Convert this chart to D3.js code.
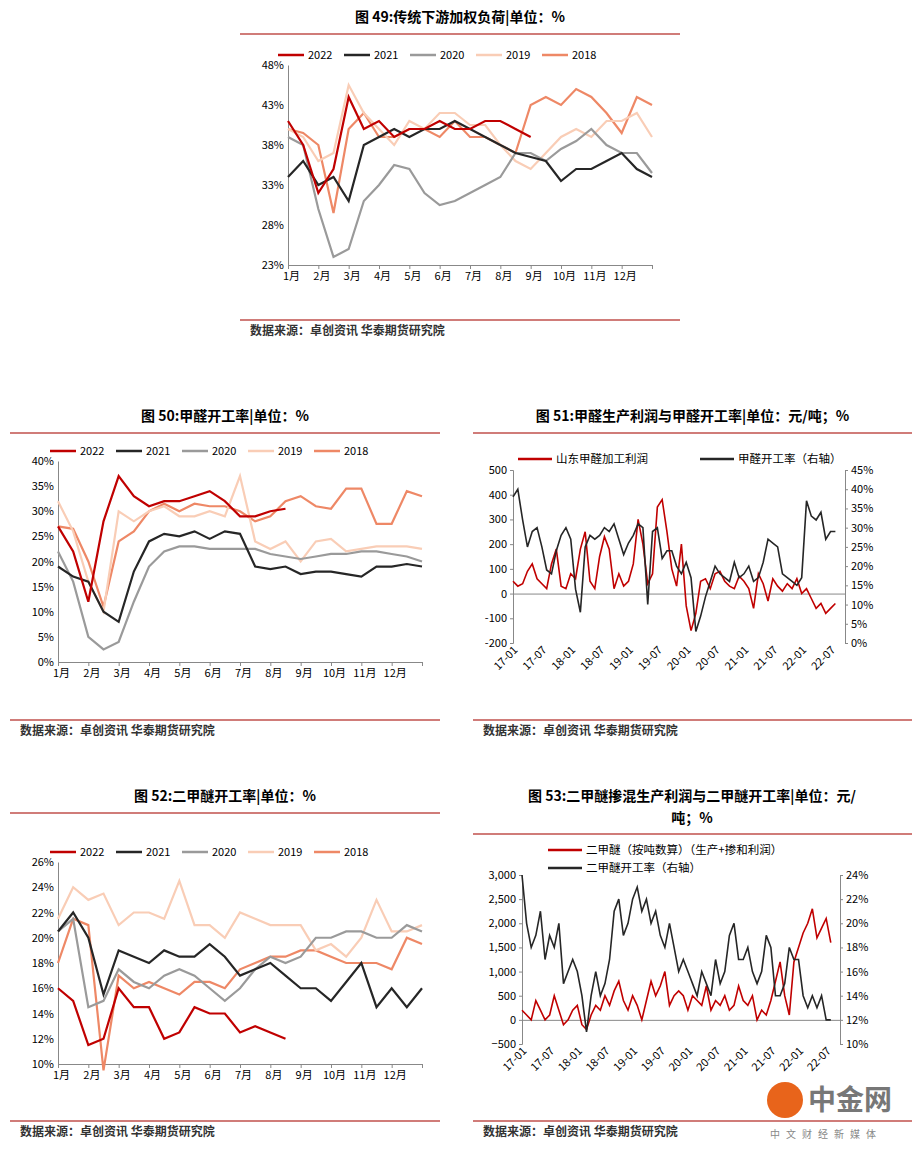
<!DOCTYPE html>
<html><head><meta charset="utf-8">
<script src="https://cdn.jsdelivr.net/npm/d3@7"></script>
<style>
body{margin:0;background:#fff;font-family:"Noto Sans CJK SC","Noto Sans",sans-serif}
text{font-family:"Noto Sans CJK SC","Noto Sans",sans-serif}
</style></head><body>
<svg id="c" width="921" height="1152"></svg>
<script>
const years = ['2022', '2021', '2020', '2019', '2018'];
const yearColors = ['#c00000', '#262626', '#9a9a9a', '#f9cdb6', '#ee8866'];
const months = ['1月','2月','3月','4月','5月','6月','7月','8月','9月','10月','11月','12月'];

// half-month samples starting at month 1
const load49 = [
  [41,38,32,35,44,40,41,39,40,40,41,40,40,41,41,40,39],
  [34,36,33,34,31,38,39,40,39,40,40,41,40,39,38,37,36.5,36,33.5,35,35,36,37,35,34],
  [39,38,30,24,25,31,33,35.5,35,32,30.5,31,32,33,34,37,37,36,37.5,38.5,40,38,37,37,34.5],
  [40,39,36,37,45.5,42,40,38,41,40,42,42,40.5,40.5,38,36,35,37,39,40,39,41,41,42,39],
  [40,39.5,38,29.5,40,42,39,39,40,40,39,41,39,39,38,37,43,44,43,45,44,42,39.5,44,43]
];
const rate50 = [
  [27,22,12,28,37,33,31,32,32,33,34,32,29,29,30,30.5],
  [19,17,16,10,8,18,24,25.5,25,26,24.5,26,25.5,19,18.5,19,17.5,18,18,17.5,17,19,19,19.5,19],
  [22,16,5,2.5,4,12,19,22,23,23,22.5,22.5,22.5,22.5,21.5,21,20.5,21,21.5,21.5,22,22,21.5,21,20],
  [32,26,16,10,30,28,30,31,29,29,30,29,37,24,22.5,24,20,24,24.5,22,22.5,23,23,23,22.5],
  [27,26.5,20,11,24,26,30,31.5,30,31.5,31,31,30,28,29,32,33,31,30.5,34.5,34.5,27.5,27.5,34,33]
];
const rate52 = [
  [16,15,11.5,12,16,14.5,14.5,12,12.5,14.5,14,14,12.5,13,12.5,12],
  [20.5,22,20,15.5,19,18.5,18,19,18.5,18.5,19.5,18.5,17,17.5,18,17,16,16,15,16.5,18,14.5,16,14.5,16],
  [20.5,21.5,14.5,15,17.5,16.5,16,17,17.5,17,16,15,16,17.5,18.5,18,18.5,20,20,20.5,20.5,20,20,21,20.5],
  [21.5,24,23,23.5,21,22,22,21.5,24.5,21,21,20,22,21.5,21,21,21,19,19.5,18.5,20,23,20.5,20.5,21],
  [18,21.5,21,9.5,17,16,16.5,16,15.5,16.5,16.5,16,17.5,18,18.5,18.5,19,19,18.5,18,18,18,17.5,20,19.5]
];

// monthly from 2017-01
const profit51 = [50,30,40,90,120,60,40,20,120,180,30,20, 80,60,180,250,50,20,150,230,180,20,80,30,
  50,120,300,200,40,80,350,380,250,100,30,200, -50,-150,-80,50,60,20,80,90,50,30,20,70,
  50,20,-60,80,40,-30,60,30,10,40,20,60, 0,20,-20,-60,-40,-80,-60,-40];
const rate51 = [38,40,32,25,29,30,25,19,18,24,28,30, 27,14,8,25,28,27,28,30,29,31,27,23,
  26,28,31,30,10,29,30,22,24,24,20,18, 21,17,3,7,12,16,20,18,17,16,21,17,
  18,20,16,17,21,27,26,25,18,17,16,15, 17,37,33,32,34,27,29,29];
const profit53 = [200,100,0,400,200,0,100,500,200,-100,0,200, 300,-100,-200,100,300,200,500,300,600,800,400,200,
  500,300,0,400,800,500,700,1000,300,500,600,500, 200,500,400,300,700,200,400,300,500,200,300,700,
  400,300,500,0,200,100,400,800,1200,500,100,1200, 1500,1800,2000,2300,1700,1900,2100,1600];
const rate53 = [24,20,18,19,21,17,19,18,20,15,16,17, 16,14,11,14,16,14,15,17,21,22,19,20,
  22,23,21,22,20,21,19,18,20,18,16,17, 16,15,14,16,15,14,17,15,16,19,20,17,
  17,18,16,15,16,19,18,14,14,15,18,17, 17,14,13,14,13,14,12,12];
const dateTicks = ['17-01','17-07','18-01','18-07','19-01','19-07','20-01','20-07','21-01','21-07','22-01','22-07'];

const svg = d3.select('#c');
const red = '#c0504d';

function frame(x0, x1, title, yTitle, ySrc) {
  svg.append('text').attr('x', (x0 + x1) / 2).attr('y', yTitle).attr('text-anchor', 'middle')
    .attr('font-size', 14).attr('font-weight', 'bold').text(title);
  svg.append('line').attr('x1', x0).attr('x2', x1).attr('y1', yTitle + 12).attr('y2', yTitle + 12).attr('stroke', red).attr('stroke-width', 1.5);
  svg.append('line').attr('x1', x0).attr('x2', x1).attr('y1', ySrc - 15).attr('y2', ySrc - 15).attr('stroke', red).attr('stroke-width', 1.5);
  svg.append('text').attr('x', x0 + 10).attr('y', ySrc).attr('font-size', 12).attr('font-weight', 'bold').attr('fill', '#333')
    .text('数据来源：卓创资讯  华泰期货研究院');
}

function seasonal(series, box, yDom, yStep, legendX) {
  const x = d3.scaleLinear().domain([1, 13]).range([box.l, box.r]);
  const y = d3.scaleLinear().domain(yDom).range([box.b, box.t]);
  const g = svg.append('g');
  const ticks = d3.range(yDom[0], yDom[1] + 0.01, yStep);
  g.append('g').attr('transform', `translate(${box.l},0)`)
    .call(d3.axisLeft(y).tickValues(ticks).tickFormat(d => d + '%').tickSize(0).tickPadding(4))
    .call(a => a.selectAll('text').attr('font-size', 11).attr('font-family', 'Liberation Sans'));
  g.append('g').attr('transform', `translate(0,${box.b})`)
    .call(d3.axisBottom(x).tickValues(d3.range(1, 14)).tickFormat(d => months[d - 1] || '').tickSize(4))
    .call(a => a.selectAll('text').attr('font-size', 11).attr('dx', 3));
  g.selectAll('.domain,line').attr('stroke', '#888');
  const line = d3.line().x((d, i) => x(1 + i * 0.5)).y(d => y(d));
  series.slice().reverse().forEach((s, k) => {
    const i = series.length - 1 - k;
    g.append('path').attr('d', line(s)).attr('fill', 'none').attr('stroke', yearColors[i]).attr('stroke-width', 2.2);
  });
  years.forEach((yr, i) => {
    const lx = legendX + i * 66;
    g.append('line').attr('x1', lx).attr('x2', lx + 26).attr('y1', box.t - 10).attr('y2', box.t - 10).attr('stroke', yearColors[i]).attr('stroke-width', 2.5);
    g.append('text').attr('x', lx + 30).attr('y', box.t - 6).attr('font-size', 11).attr('font-family', 'Liberation Sans').text(yr);
  });
}

function dual(a, b, box, lDom, lStep, lFmt, rDom, rStep, names) {
  const x = d3.scaleLinear().domain([0, 69]).range([box.l, box.r]);
  const yl = d3.scaleLinear().domain(lDom).range([box.b, box.t]);
  const yr = d3.scaleLinear().domain(rDom).range([box.b, box.t]);
  const g = svg.append('g');
  g.append('g').attr('transform', `translate(${box.l},0)`)
    .call(d3.axisLeft(yl).tickValues(d3.range(lDom[0], lDom[1] + 1, lStep)).tickFormat(lFmt).tickSize(3))
    .call(s => s.selectAll('text').attr('font-size', 11).attr('font-family', 'Liberation Sans'));
  g.append('g').attr('transform', `translate(${box.r},0)`)
    .call(d3.axisRight(yr).tickValues(d3.range(rDom[0], rDom[1] + 0.01, rStep)).tickFormat(d => d + '%').tickSize(3))
    .call(s => s.selectAll('text').attr('font-size', 11).attr('font-family', 'Liberation Sans'));
  g.append('g').attr('transform', `translate(0,${yl(0)})`)
    .call(d3.axisBottom(x).tickValues([]).tickSize(0));
  g.append('g').attr('transform', `translate(0,${box.b})`)
    .call(d3.axisBottom(x).tickValues(d3.range(0, 72, 6)).tickFormat((d, i) => dateTicks[i]).tickSize(0))
    .call(s => s.select('.domain').remove())
    .call(s => s.selectAll('text').attr('font-size', 11).attr('font-family', 'Liberation Sans')
      .attr('text-anchor', 'end').attr('transform', 'rotate(-45)').attr('dx', -2).attr('dy', 6));
  g.selectAll('.domain,line').attr('stroke', '#888');
  g.append('path').attr('d', d3.line().x((d, i) => x(i)).y(d => yl(d))(a))
    .attr('fill', 'none').attr('stroke', '#c00000').attr('stroke-width', 1.6);
  g.append('path').attr('d', d3.line().x((d, i) => x(i)).y(d => yr(d))(b))
    .attr('fill', 'none').attr('stroke', '#262626').attr('stroke-width', 1.6);
  names.forEach((n, i) => {
    g.append('line').attr('x1', n.x).attr('x2', n.x + 34).attr('y1', n.y).attr('y2', n.y).attr('stroke', i ? '#262626' : '#c00000').attr('stroke-width', 2.5);
    g.append('text').attr('x', n.x + 38).attr('y', n.y + 4).attr('font-size', 11.5).text(n.t);
  });
}

frame(240, 680, '图 49:传统下游加权负荷|单位：%', 22, 335);
seasonal(load49, {l: 288, r: 652, t: 65, b: 265}, [23, 48], 5, 278);

frame(10, 440, '图 50:甲醛开工率|单位：%', 421, 735);
seasonal(rate50, {l: 58, r: 422, t: 461, b: 662}, [0, 40], 5, 50);

frame(473, 912, '图 51:甲醛生产利润与甲醛开工率|单位：元/吨；%', 421, 735);
dual(profit51, rate51, {l: 513, r: 845, t: 470, b: 643}, [-200, 500], 100, d => d, [0, 45], 5,
  [{x: 518, y: 459, t: '山东甲醛加工利润'}, {x: 700, y: 459, t: '甲醛开工率（右轴）'}]);

frame(10, 440, '图 52:二甲醚开工率|单位：%', 801, 1136);
seasonal(rate52, {l: 58, r: 422, t: 862, b: 1064}, [10, 26], 2, 50);

svg.append('text').attr('x', 692).attr('y', 801).attr('text-anchor', 'middle').attr('font-size', 14).attr('font-weight', 'bold').text('图 53:二甲醚掺混生产利润与二甲醚开工率|单位：元/');
svg.append('text').attr('x', 692).attr('y', 823).attr('text-anchor', 'middle').attr('font-size', 14).attr('font-weight', 'bold').text('吨；%');
svg.append('line').attr('x1', 473).attr('x2', 912).attr('y1', 834).attr('y2', 834).attr('stroke', red).attr('stroke-width', 1.5);
svg.append('line').attr('x1', 473).attr('x2', 912).attr('y1', 1121).attr('y2', 1121).attr('stroke', red).attr('stroke-width', 1.5);
svg.append('text').attr('x', 483).attr('y', 1136).attr('font-size', 12).attr('font-weight', 'bold').attr('fill', '#333').text('数据来源：卓创资讯  华泰期货研究院');
dual(profit53, rate53, {l: 522, r: 840, t: 875, b: 1044}, [-500, 3000], 500, d3.format(','), [10, 24], 2,
  [{x: 548, y: 850, t: '二甲醚（按吨数算）（生产+掺和利润）'}, {x: 548, y: 868, t: '二甲醚开工率（右轴）'}]);

svg.append('circle').attr('cx', 785).attr('cy', 1100).attr('r', 18).attr('fill', '#e8641b');
svg.append('text').attr('x', 808).attr('y', 1110).attr('font-size', 28).attr('font-weight', 'bold').attr('fill', '#777').text('中金网');
svg.append('text').attr('x', 770).attr('y', 1138).attr('font-size', 10).attr('fill', '#888').attr('letter-spacing', 6).text('中文财经新媒体');
</script></body></html>
